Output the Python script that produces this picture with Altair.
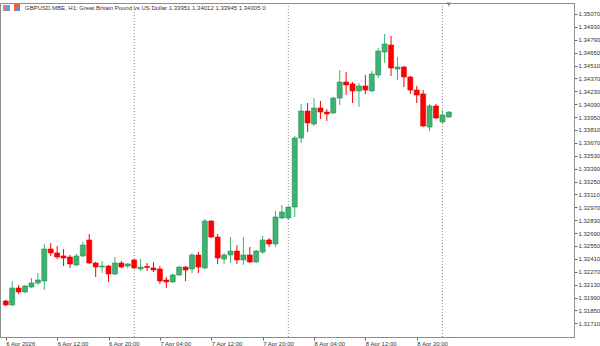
import altair as alt
import pandas as pd

# ---- data (GBPUSD H1, 6 Apr 2026 04:00 onward) ----
opens = [1.31952, 1.31909, 1.32093, 1.32050, 1.32104, 1.32148, 1.32169, 1.32517, 1.32474, 1.32441,
         1.32430, 1.32343, 1.32441, 1.32615, 1.32365, 1.32321, 1.32332, 1.32245, 1.32365, 1.32332,
         1.32398, 1.32300, 1.32327, 1.32311, 1.32300, 1.32180, 1.32159, 1.32235, 1.32321, 1.32300,
         1.32452, 1.32311, 1.32821, 1.32647, 1.32408, 1.32452, 1.32495, 1.32398, 1.32452, 1.32376,
         1.32484, 1.32615, 1.32571, 1.32854, 1.32854, 1.32973, 1.33723, 1.34016, 1.33875, 1.34049,
         1.34005, 1.33995, 1.34157, 1.34331, 1.34310, 1.34234, 1.34288, 1.34234, 1.34407, 1.34657,
         1.34733, 1.34472, 1.34494, 1.34386, 1.34244, 1.34201, 1.33842, 1.34071, 1.33897, 1.33951]
highs = [1.31963, 1.32169, 1.32126, 1.32126, 1.32202, 1.32256, 1.32571, 1.32582, 1.32550, 1.32517,
         1.32452, 1.32463, 1.32593, 1.32680, 1.32376, 1.32387, 1.32343, 1.32430, 1.32387, 1.32365,
         1.32408, 1.32408, 1.32365, 1.32376, 1.32332, 1.32213, 1.32245, 1.32332, 1.32332, 1.32474,
         1.32484, 1.32843, 1.32832, 1.32680, 1.32474, 1.32647, 1.32560, 1.32647, 1.32539, 1.32506,
         1.32658, 1.32637, 1.32930, 1.32995, 1.32984, 1.33745, 1.34092, 1.34103, 1.34157, 1.34125,
         1.34038, 1.34168, 1.34462, 1.34440, 1.34331, 1.34320, 1.34407, 1.34451, 1.34701, 1.34853,
         1.34831, 1.34603, 1.34505, 1.34396, 1.34288, 1.34244, 1.34092, 1.34092, 1.34027, 1.34012]
lows = [1.31898, 1.31898, 1.32028, 1.32039, 1.32093, 1.32126, 1.32072, 1.32441, 1.32408, 1.32332,
        1.32311, 1.32332, 1.32430, 1.32354, 1.32213, 1.32256, 1.32159, 1.32235, 1.32311, 1.32311,
        1.32300, 1.32278, 1.32278, 1.32267, 1.32137, 1.32093, 1.32148, 1.32224, 1.32169, 1.32256,
        1.32256, 1.32300, 1.32637, 1.32354, 1.32354, 1.32365, 1.32354, 1.32343, 1.32365, 1.32365,
        1.32463, 1.32539, 1.32539, 1.32843, 1.32832, 1.32865, 1.33669, 1.33788, 1.33853, 1.33929,
        1.33908, 1.33984, 1.34081, 1.34190, 1.34103, 1.34060, 1.34201, 1.34223, 1.34375, 1.34538,
        1.34396, 1.34353, 1.34277, 1.34201, 1.34103, 1.33842, 1.33799, 1.33929, 1.33886, 1.33945]
closes = [1.31909, 1.32093, 1.32050, 1.32115, 1.32148, 1.32180, 1.32517, 1.32474, 1.32430, 1.32419,
          1.32354, 1.32441, 1.32560, 1.32365, 1.32321, 1.32332, 1.32245, 1.32365, 1.32321, 1.32354,
          1.32311, 1.32321, 1.32316, 1.32289, 1.32169, 1.32159, 1.32235, 1.32321, 1.32289, 1.32452,
          1.32321, 1.32821, 1.32647, 1.32419, 1.32452, 1.32495, 1.32398, 1.32452, 1.32376, 1.32495,
          1.32615, 1.32571, 1.32865, 1.32919, 1.32973, 1.33723, 1.34016, 1.33886, 1.34049, 1.34005,
          1.33984, 1.34157, 1.34331, 1.34299, 1.34234, 1.34288, 1.34244, 1.34418, 1.34668, 1.34744,
          1.34483, 1.34494, 1.34386, 1.34244, 1.34190, 1.33853, 1.34071, 1.33940, 1.33973, 1.34005]

tick_hours = [0, 8, 16, 24, 32, 40, 48, 56, 64]
tick_labels = ["6 Apr 2026", "6 Apr 12:00", "6 Apr 20:00", "7 Apr 04:00", "7 Apr 12:00",
               "7 Apr 20:00", "8 Apr 04:00", "8 Apr 12:00", "8 Apr 20:00"]
price_ticks = [1.31710, 1.31850, 1.31990, 1.32130, 1.32270, 1.32410, 1.32550, 1.32690, 1.32830,
               1.32970, 1.33110, 1.33250, 1.33390, 1.33530, 1.33670, 1.33810, 1.33950, 1.34090,
               1.34230, 1.34370, 1.34510, 1.34650, 1.34790, 1.34930, 1.35070]
separator_hours = [20, 44, 68]
shift_marker_hours = [69]
header_text = ["GBPUSD.MBE, H1:  Great Britain Pound vs US Dollar  1.33951 1.34012 1.33945 1.34005  0"]

FONT = "Liberation Sans"

df = pd.DataFrame({"h": list(range(len(opens))), "open": opens, "high": highs,
                   "low": lows, "close": closes})
df["dir"] = ["up" if c >= o else "down" for o, c in zip(opens, closes)]

xscale = alt.Scale(domain=[-0.12, 87.71], nice=False, zero=False)
yscale = alt.Scale(domain=[1.315609, 1.351895], nice=False, zero=False)

label_expr = "".join(f"datum.value == {h} ? '{lab}' : " for h, lab in zip(tick_hours, tick_labels)) + "''"

x_axis = alt.Axis(values=tick_hours, labelExpr=label_expr, title=None, orient="bottom",
                  labelAlign="left", labelBaseline="top", labelPadding=0, tickSize=3,
                  labelOverlap=False, labelFlush=False, labelBound=False, grid=False)
y_axis = alt.Axis(values=price_ticks, format=".5f", title=None, orient="right",
                  labelAlign="left", labelBaseline="middle", labelPadding=1, tickSize=3,
                  labelOverlap=False, labelFlush=False, labelBound=False, grid=False)

color_scale = alt.Scale(domain=["up", "down"], range=["#3cb371", "#ff0000"])
stroke_scale = alt.Scale(domain=["up", "down"], range=["#2e8b57", "#e60000"])

base = alt.Chart(df)

wicks = base.mark_rule(strokeWidth=1).encode(
    x=alt.X("h:Q", scale=xscale, axis=x_axis),
    y=alt.Y("low:Q", scale=yscale, axis=y_axis),
    y2="high:Q",
    color=alt.Color("dir:N", scale=color_scale, legend=None),
)

bodies = base.mark_bar(size=5, strokeWidth=0.6).encode(
    x=alt.X("h:Q", scale=xscale, axis=x_axis),
    y=alt.Y("open:Q", scale=yscale, axis=y_axis),
    y2="close:Q",
    color=alt.Color("dir:N", scale=color_scale, legend=None),
    stroke=alt.Stroke("dir:N", scale=stroke_scale, legend=None),
)

seps = alt.Chart(pd.DataFrame({"h": separator_hours})).mark_rule(
    color="#8c8c8c", strokeWidth=1, strokeDash=[1, 2]
).encode(x=alt.X("h:Q", scale=xscale, axis=x_axis))

marker = alt.Chart(pd.DataFrame({"h": shift_marker_hours})).mark_point(
    shape="triangle-down", filled=True, size=22, color="#7d8aa0", opacity=1
).encode(x=alt.X("h:Q", scale=xscale, axis=x_axis), y=alt.value(1.5))

header = alt.Chart(pd.DataFrame({"t": header_text})).mark_text(
    align="left", baseline="middle", fontSize=6, font=FONT, color="#333333"
).encode(x=alt.value(25), y=alt.value(5), text="t:N")

# small window icons in the header
icon_a = alt.Chart(pd.DataFrame({"k": [0]})).mark_rect(color="#e8777a").encode(
    x=alt.value(3), x2=alt.value(10), y=alt.value(2), y2=alt.value(8))
icon_a2 = alt.Chart(pd.DataFrame({"k": [0]})).mark_rect(color="#6f9ad8").encode(
    x=alt.value(6), x2=alt.value(10), y=alt.value(3), y2=alt.value(8))
icon_b = alt.Chart(pd.DataFrame({"k": [0]})).mark_rect(color="#ef5b4a").encode(
    x=alt.value(14), x2=alt.value(20), y=alt.value(1), y2=alt.value(8))
icon_b2 = alt.Chart(pd.DataFrame({"k": [0]})).mark_rect(color="#5b8fd6").encode(
    x=alt.value(16), x2=alt.value(20), y=alt.value(4), y2=alt.value(8))

chart = alt.layer(seps, wicks, bodies, marker, icon_a, icon_a2, icon_b, icon_b2, header).properties(
    width=574, height=334,
    autosize=alt.AutoSizeParams(type="none"),
    padding={"left": 0, "top": 3, "right": 26, "bottom": 9},
    background="white",
).configure_view(
    stroke="#8c8c8c", strokeWidth=1
).configure_axis(
    labelFont=FONT, labelFontSize=6, labelColor="#333333", labelOverlap=False,
    tickColor="#666666", domainColor="#8c8c8c", domain=True,
)

chart.save("out.html", embed_options={"renderer": "svg", "actions": False})
